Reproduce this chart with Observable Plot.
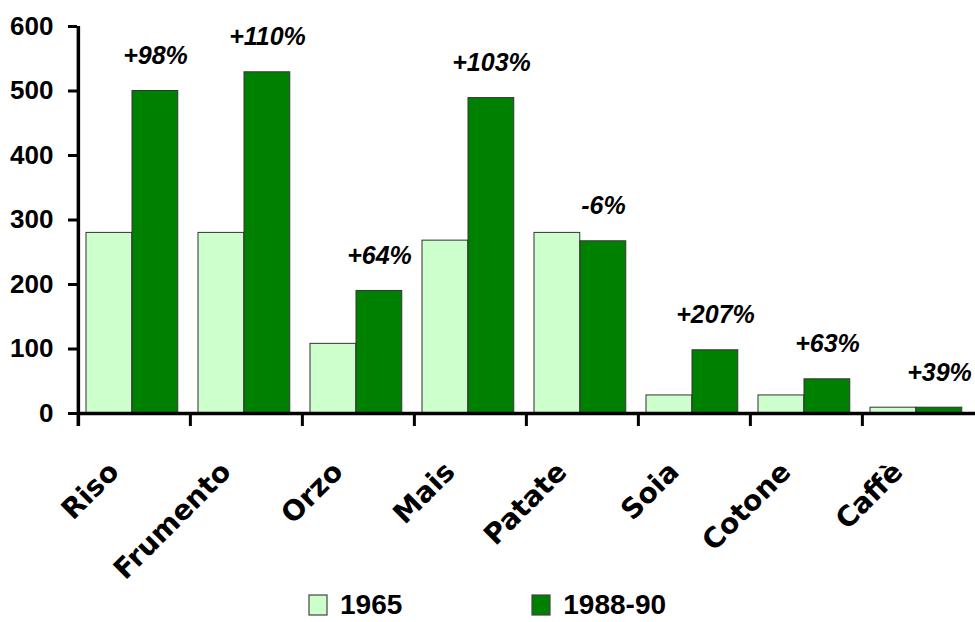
<!DOCTYPE html>
<html>
<head>
<meta charset="utf-8">
<script src="https://cdn.jsdelivr.net/npm/d3@7"></script>
<script src="https://cdn.jsdelivr.net/npm/@observablehq/plot@0.6"></script>
<style>
  html, body { margin: 0; padding: 0; background: white; }
  #chart { width: 975px; }
  body .lg-swatches { font: bold 28px "Liberation Sans", Arial, sans-serif !important; line-height: 30px !important; margin: 0 0 0 309px !important; color: black; min-height: 30px !important; height: 30px; }
  body .lg-swatch { margin-right: 130px !important; }
  body .lg-swatch > svg { margin-right: 13px !important; overflow: visible; stroke: #444; stroke-width: 1.2px; }
</style>
</head>
<body>
<div id="chart"></div>
<script>
// ---- data ----
const crops = ["Riso", "Frumento", "Orzo", "Mais", "Patate", "Soia", "Cotone", "Caffè"];
const values1965 = [280, 280, 108, 268, 280, 28, 28, 9];
const values1990 = [500, 529, 190, 489, 267, 98, 53, 9];
const changes = ["+98%", "+110%", "+64%", "+103%", "-6%", "+207%", "+63%", "+39%"];
const seriesNames = ["1965", "1988-90"];
const seriesColors = ["#CCFFCC", "#008000"];
const yTicks = [0, 100, 200, 300, 400, 500, 600];

// ---- table built from arrays ----
const rows1965 = crops.map((c, i) => ({crop: c, series: seriesNames[0], value: values1965[i]}));
const rows1990 = crops.map((c, i) => ({crop: c, series: seriesNames[1], value: values1990[i], change: changes[i]}));

const width = 975, height = 590;
const marginLeft = 77, marginRight = 0, marginTop = 26, marginBottom = 177;
const bw = (width - marginLeft - marginRight) / crops.length;
const frameH = height - marginTop - marginBottom;

const chart = Plot.plot({
  width, height, marginLeft, marginRight, marginTop, marginBottom,
  x: {type: "band", domain: crops, padding: 0, axis: null},
  y: {domain: [0, 600], axis: null},
  color: {domain: seriesNames, range: seriesColors},
  style: {background: "white", overflow: "visible"},
  marks: [
    Plot.barY(rows1965, {x: "crop", y: "value", fill: "series", stroke: "#333", strokeWidth: 1,
      insetLeft: 8, insetRight: bw - 54}),
    Plot.barY(rows1990, {x: "crop", y: "value", fill: "series", stroke: "#333", strokeWidth: 1,
      insetLeft: 54, insetRight: bw - 100}),
    Plot.text(rows1990, {x: "crop", y: "value", text: "change", dx: 21, dy: -35,
      fontSize: 25, fontWeight: "bold", fontStyle: "italic", fontFamily: "Liberation Sans, Arial, sans-serif", fill: "black"}),
    // category labels
    Plot.text(crops, {x: d => d, frameAnchor: "bottom", rotate: -45, textAnchor: "end", dx: -14, dy: 60,
      fontSize: 28, fontWeight: "bold", fontFamily: "DejaVu Sans, sans-serif", fill: "black"}),
    // y axis
    Plot.axisY({ticks: yTicks, tickSize: 9, tickPadding: 15, strokeWidth: 3, label: null,
      fontSize: 26, fontWeight: "bold", fontFamily: "Liberation Sans, Arial, sans-serif", fill: "black"}),
    // category boundary ticks
    Plot.ruleX(crops, {x: d => d, dx: -bw / 2, insetTop: frameH, insetBottom: -13, stroke: "black", strokeWidth: 3}),
    // vertical axis line
    Plot.ruleX(crops.slice(0, 1), {x: d => d, dx: -bw / 2, insetBottom: -13, stroke: "black", strokeWidth: 3.5}),
    // baseline
    Plot.ruleY([0], {stroke: "black", strokeWidth: 3.5})
  ]
});

document.getElementById("chart").appendChild(chart);
const leg = chart.legend("color", {legend: "swatches", swatchWidth: 18, swatchHeight: 20, className: "lg"});
document.getElementById("chart").appendChild(leg);
</script>
</body>
</html>
